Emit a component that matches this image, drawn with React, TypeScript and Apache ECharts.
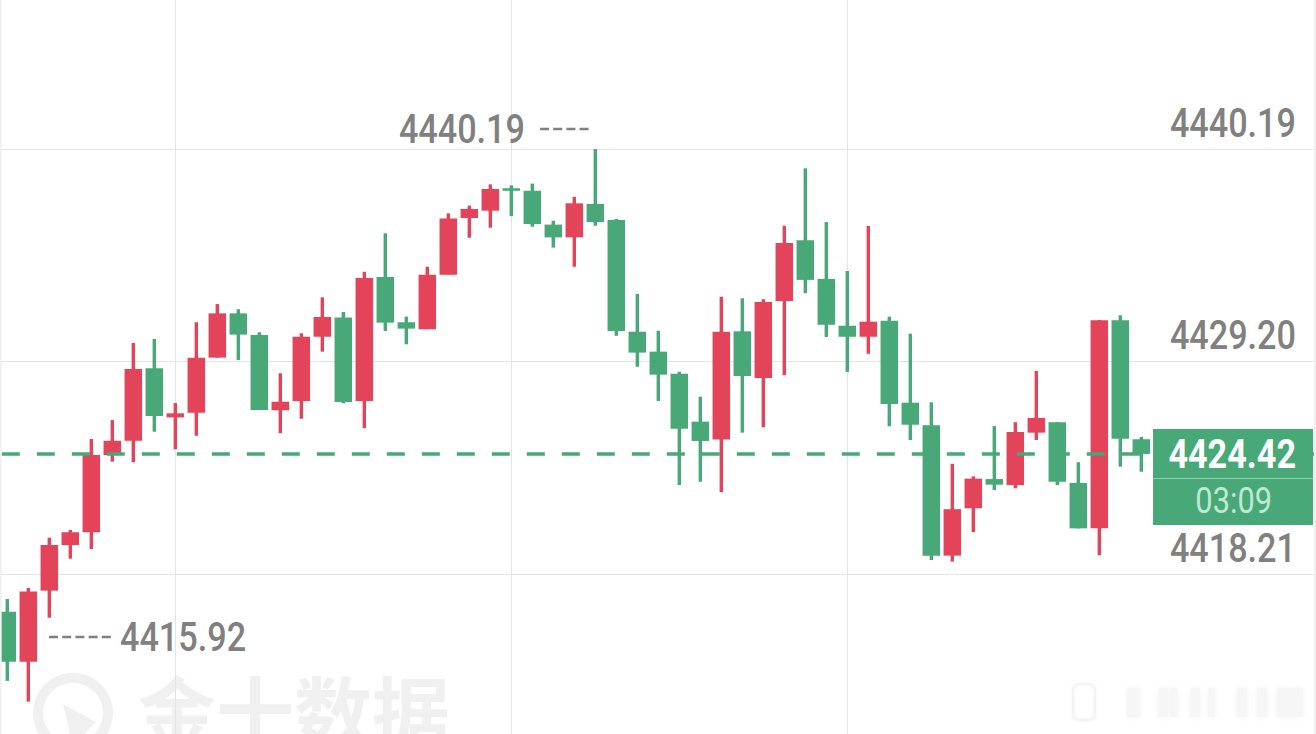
import React, { useEffect, useRef } from "react";
import * as echarts from "echarts";

// 每根K线的开收低高
const opens = [
  4416.26, 4413.67, 4417.35, 4419.71, 4420.37, 4424.36, 4425.1, 4428.85, 4426.31, 4426.55, 4429.4,
  4431.69, 4430.57, 4426.68, 4427.16, 4430.48, 4431.47, 4427.16, 4433.57, 4431.23, 4430.87, 4433.69,
  4436.62, 4437.0, 4438.16, 4438.03, 4436.28, 4435.62, 4437.35, 4436.52, 4430.74, 4429.71, 4428.57,
  4426.09, 4425.16, 4430.76, 4428.35, 4432.33, 4435.47, 4433.47, 4431.05, 4430.48, 4431.31, 4427.07,
  4425.9, 4419.16, 4421.61, 4423.12, 4422.81, 4425.52, 4426.06, 4422.92, 4420.57, 4431.33, 4425.18,
];
const closes = [
  4413.67, 4417.3, 4419.71, 4420.37, 4424.36, 4425.1, 4428.81, 4426.38, 4426.52, 4429.4, 4431.69,
  4430.59, 4426.69, 4427.12, 4430.48, 4431.5, 4427.11, 4433.52, 4431.21, 4430.9, 4433.69, 4436.59,
  4437.09, 4438.12, 4438.03, 4436.31, 4435.62, 4437.38, 4436.41, 4430.78, 4429.66, 4428.52, 4425.72,
  4425.09, 4430.74, 4428.45, 4432.28, 4435.33, 4433.42, 4431.1, 4430.48, 4431.26, 4427.0, 4425.93,
  4419.16, 4421.56, 4423.14, 4422.83, 4425.55, 4426.28, 4422.98, 4420.57, 4431.33, 4425.21, 4424.42,
];
const lows = [
  4412.68, 4411.61, 4415.95, 4419.0, 4419.5, 4424.02, 4423.99, 4425.57, 4424.66, 4425.36, 4429.4,
  4429.28, 4426.69, 4425.49, 4426.24, 4429.71, 4427.04, 4425.75, 4430.78, 4430.09, 4430.87, 4433.69,
  4435.6, 4436.12, 4436.72, 4436.17, 4435.09, 4434.1, 4436.22, 4430.53, 4428.93, 4427.16, 4422.81,
  4422.98, 4422.44, 4425.52, 4425.8, 4428.49, 4432.73, 4430.47, 4428.66, 4429.6, 4425.85, 4425.14,
  4418.93, 4418.85, 4420.38, 4422.55, 4422.64, 4425.14, 4422.81, 4420.57, 4419.18, 4423.76, 4423.5,
];
const highs = [
  4416.92, 4417.49, 4420.09, 4420.49, 4425.19, 4426.17, 4430.16, 4430.36, 4427.05, 4431.23, 4432.17,
  4431.9, 4430.71, 4428.59, 4430.66, 4432.52, 4431.76, 4433.84, 4435.83, 4431.52, 4434.1, 4436.86,
  4437.26, 4438.36, 4438.31, 4438.4, 4436.48, 4437.72, 4440.19, 4436.57, 4432.69, 4430.79, 4428.67,
  4427.38, 4432.55, 4432.47, 4432.42, 4436.22, 4439.19, 4436.41, 4433.88, 4436.21, 4431.52, 4430.64,
  4427.09, 4423.91, 4423.26, 4425.86, 4426.06, 4428.71, 4426.06, 4423.99, 4431.35, 4431.59, 4425.3,
];

// 横轴留了右边的空位，时间图上没有，只用序号
const categories = Array.from({ length: 63 }, (_, i) => `K${i + 1}`);
const verticalLines = ["K9", "K25", "K41"];
const tickLabels = [4440.19, 4429.2, 4418.21];
const lastPrice = 4424.42;
const countdown = "03:09";
const highLabel = "4440.19";
const lowLabel = "4415.92";
const watermark = "金十数据";

const UP = "#E34459";
const DOWN = "#48A877";
const LABEL = "#808080";
const FONT = "Roboto, sans-serif";
const MARK = "#f0f0f0";
const NARROW = 0.855; // 原图是窄体数字，Roboto 横向压一下

const candleRows = opens.map((o, i) => [i, o, closes[i], lows[i], highs[i]]);

const renderCandle = (params: any, api: any) => {
  const i = api.value(0);
  const open = api.value(1);
  const close = api.value(2);
  const [x, yOpen] = api.coord([i, open]);
  const yClose = api.coord([i, close])[1];
  const yLow = api.coord([i, api.value(3)])[1];
  const yHigh = api.coord([i, api.value(4)])[1];
  const fill = close > open ? UP : DOWN;
  const bodyW = 17.5;
  const wickW = 3.4;
  return {
    type: "group",
    children: [
      {
        type: "rect",
        shape: { x: x - wickW / 2, y: yHigh, width: wickW, height: yLow - yHigh },
        style: { fill },
      },
      {
        type: "rect",
        shape: {
          x: x - bodyW / 2,
          y: Math.min(yOpen, yClose),
          width: bodyW,
          height: Math.abs(yClose - yOpen),
        },
        style: { fill },
      },
    ],
  };
};

// 右下角那块模糊的签名
const blurBars = [
  [1127, 13],
  [1158, 10],
  [1170, 8],
  [1190, 10],
  [1208, 7],
  [1237, 10],
  [1257, 10],
  [1277, 26],
];

const priceText = (
  text: string,
  x: number,
  y: number,
  align: string,
  fill = LABEL,
  font = `500 40px ${FONT}`
) => ({
  type: "text",
  z: 32,
  silent: true,
  x,
  y,
  scaleX: NARROW,
  style: { text, fill, font, align, verticalAlign: "middle" },
});

const App = () => {
  const chartRef = useRef<HTMLDivElement>(null);

  useEffect(() => {
    document.body.style.margin = "0";
    const myChart = echarts.init(chartRef.current, null, { renderer: "svg" });

    const option = {
      animation: false,
      backgroundColor: "#ffffff",
      grid: { left: -3.2, right: -3.8, top: 0, bottom: 0, outerBoundsMode: "none" },
      xAxis: {
        type: "category",
        data: categories,
        show: false,
      },
      yAxis: {
        type: "value",
        position: "right",
        min: 4409.935,
        max: 4447.896,
        axisLine: { show: false },
        axisTick: { show: false },
        axisLabel: { show: false },
        splitLine: { show: false },
      },
      series: [
        {
          name: "grid",
          type: "line",
          data: [],
          z: 1,
          markLine: {
            z: 1,
            silent: true,
            animation: false,
            symbol: "none",
            label: { show: false },
            lineStyle: { color: "#e4e4e4", width: 1, type: "solid" },
            data: [
              ...tickLabels.map((v) => ({ yAxis: v })),
              ...verticalLines.map((c) => ({ xAxis: c })),
            ],
          },
        },
        {
          name: "kline",
          type: "custom",
          z: 2,
          clip: false,
          renderItem: renderCandle,
          encode: { x: 0, y: [1, 2, 3, 4] },
          data: candleRows,
          markLine: {
            z: 5,
            silent: true,
            animation: false,
            symbol: "none",
            label: { show: false },
            lineStyle: { color: DOWN, width: 3.5, type: [18, 17], dashOffset: 30.1 },
            data: [{ yAxis: lastPrice }],
          },
        },
      ],
    };

    myChart.setOption(option);

    // 右侧刻度文字放在网格线上方，位置由轴换算
    const yOf = (v: number) => myChart.convertToPixel({ yAxisIndex: 0 }, v) as number;

    myChart.setOption({
      graphic: [
        // 水印
        {
          type: "ring",
          z: 0,
          silent: true,
          shape: { cx: 73, cy: 713, r: 40, r0: 30 },
          style: { fill: MARK },
        },
        {
          type: "polygon",
          z: 0,
          silent: true,
          shape: { points: [[63, 704], [96, 722], [84, 734], [70, 734]] },
          style: { fill: MARK },
        },
        {
          type: "text",
          z: 0,
          silent: true,
          x: 138,
          y: 670,
          style: {
            text: watermark,
            fill: MARK,
            font: 'bold 78px "Noto Sans CJK SC"',
          },
        },
        {
          type: "rect",
          z: 0,
          silent: true,
          shape: { x: 1073, y: 684, width: 22, height: 36, r: 6 },
          style: { fill: "none", stroke: "#f3f3f3", lineWidth: 2, shadowBlur: 4, shadowColor: "#f3f3f3" },
        },
        ...blurBars.map(([x, w]) => ({
          type: "rect",
          z: 0,
          silent: true,
          shape: { x, y: 688, width: w, height: 29 },
          style: { fill: "#f6f6f6", shadowBlur: 6, shadowColor: "#f4f4f4" },
        })),
        // 边框
        {
          type: "rect",
          z: 50,
          silent: true,
          shape: { x: 0, y: 0, width: 1.7, height: 734 },
          style: { fill: "#f1f1f1" },
        },
        {
          type: "rect",
          z: 50,
          silent: true,
          shape: { x: 1314, y: 0, width: 2, height: 734 },
          style: { fill: "#f1f1f1" },
        },
        // 刻度
        ...tickLabels.map((v) => priceText(v.toFixed(2), 1296, yOf(v) - 26, "right")),
        // 最高最低标注
        priceText(highLabel, 525, 129, "right"),
        {
          type: "line",
          z: 20,
          silent: true,
          shape: { x1: 540, y1: 129, x2: 591, y2: 129 },
          style: { stroke: LABEL, lineWidth: 2.5, lineDash: [9, 4.2] },
        },
        {
          type: "line",
          z: 20,
          silent: true,
          shape: { x1: 49, y1: 637, x2: 114, y2: 637 },
          style: { stroke: LABEL, lineWidth: 2.5, lineDash: [9, 4.2] },
        },
        priceText(lowLabel, 120, 637, "left"),
        // 现价标签
        {
          type: "rect",
          z: 30,
          silent: true,
          shape: { x: 1153, y: 429, width: 160, height: 96 },
          style: { fill: DOWN },
        },
        {
          type: "rect",
          z: 31,
          silent: true,
          shape: { x: 1153, y: 478, width: 160, height: 1 },
          style: { fill: "#8fd0ad" },
        },
        priceText(lastPrice.toFixed(2), 1296, 454, "right", "#ffffff", `bold 40px ${FONT}`),
        priceText(countdown, 1272, 501, "right", "#bfe8d2", `36px ${FONT}`),
      ],
    });

    return () => {
      myChart.dispose();
    };
  }, []);

  return <div ref={chartRef} style={{ width: 1316, height: 734 }}></div>;
};

export default App;
